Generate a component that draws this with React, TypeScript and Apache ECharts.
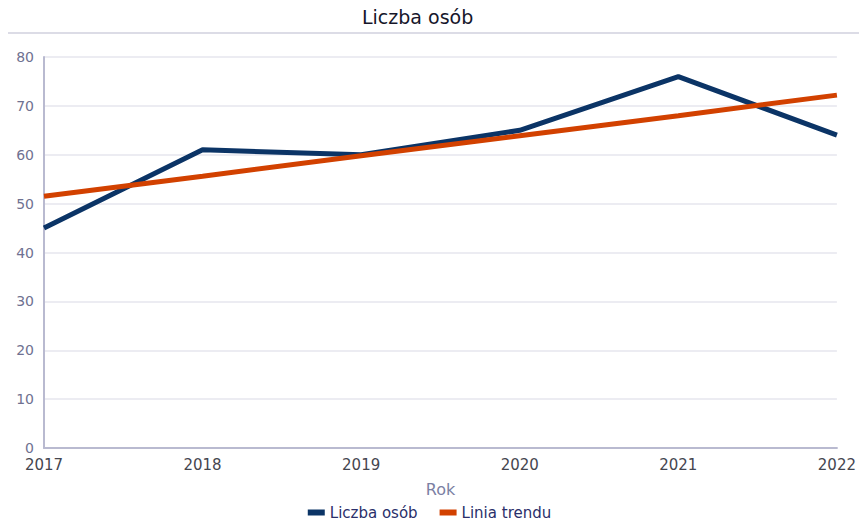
import React, { useEffect, useRef } from "react";
import * as echarts from "echarts";

const years = ["2017", "2018", "2019", "2020", "2021", "2022"];
const liczbaOsob = [45, 61, 60, 65, 76, 64];
const liniaTrendu = [51.5, 55.6, 59.8, 63.9, 68.0, 72.2];
const chartTitle = "Liczba osób";
const xAxisName = "Rok";
const seriesNames = ["Liczba osób", "Linia trendu"];

const FONT = "'DejaVu Sans', Verdana, sans-serif";

export default function App() {
  const ref = useRef<HTMLDivElement>(null);
  useEffect(() => {
    if (!ref.current) return;
    const chart = echarts.init(ref.current, null, { renderer: "svg" });
    chart.setOption({
      animation: false,
      backgroundColor: "#ffffff",
      textStyle: { fontFamily: FONT },
      title: {
        text: chartTitle,
        left: 362,
        top: 7,
        padding: 0,
        textStyle: { fontFamily: FONT, fontSize: 19, fontWeight: "normal", color: "#16162a" },
      },
      graphic: [
        {
          type: "line",
          shape: { x1: 8, y1: 33, x2: 859, y2: 33 },
          style: { stroke: "#dcdce6", lineWidth: 2 },
        },
      ],
      legend: {
        data: seriesNames,
        bottom: 2,
        left: "center",
        itemWidth: 17,
        itemHeight: 6,
        itemGap: 22,
        icon: "rect",
        textStyle: { fontFamily: FONT, fontSize: 15, color: "#2a2f6a" },
      },
      grid: { left: 44, right: 20, top: 57, bottom: 79, containLabel: false },
      xAxis: {
        type: "category",
        data: years,
        boundaryGap: false,
        name: xAxisName,
        nameLocation: "middle",
        nameGap: 33,
        nameTextStyle: { fontFamily: FONT, fontSize: 16, color: "#7b7fa3" },
        axisLine: { show: true, lineStyle: { color: "#b9bad0", width: 2 } },
        axisTick: { show: false },
        axisLabel: { fontFamily: FONT, fontSize: 15, color: "#45464f", margin: 9 },
        splitLine: { show: false },
      },
      yAxis: {
        type: "value",
        min: 0,
        max: 80,
        interval: 10,
        axisLine: { show: true, lineStyle: { color: "#b9bad0", width: 2 } },
        axisTick: { show: false },
        axisLabel: { fontFamily: FONT, fontSize: 14, color: "#6f7191", margin: 10 },
        splitLine: { show: true, lineStyle: { color: "#e6e6ee", width: 1.5 } },
      },
      series: [
        {
          name: seriesNames[0],
          type: "line",
          data: liczbaOsob,
          symbol: "none",
          lineStyle: { color: "#0b3466", width: 5 },
          itemStyle: { color: "#0b3466" },
          z: 2,
        },
        {
          name: seriesNames[1],
          type: "line",
          data: liniaTrendu,
          symbol: "none",
          lineStyle: { color: "#d24100", width: 5 },
          itemStyle: { color: "#d24100" },
          z: 3,
        },
      ],
    });
    return () => chart.dispose();
  }, []);
  return (
    <div
      ref={ref}
      style={{ position: "absolute", left: 0, top: 0, width: 859, height: 527 }}
    />
  );
}
